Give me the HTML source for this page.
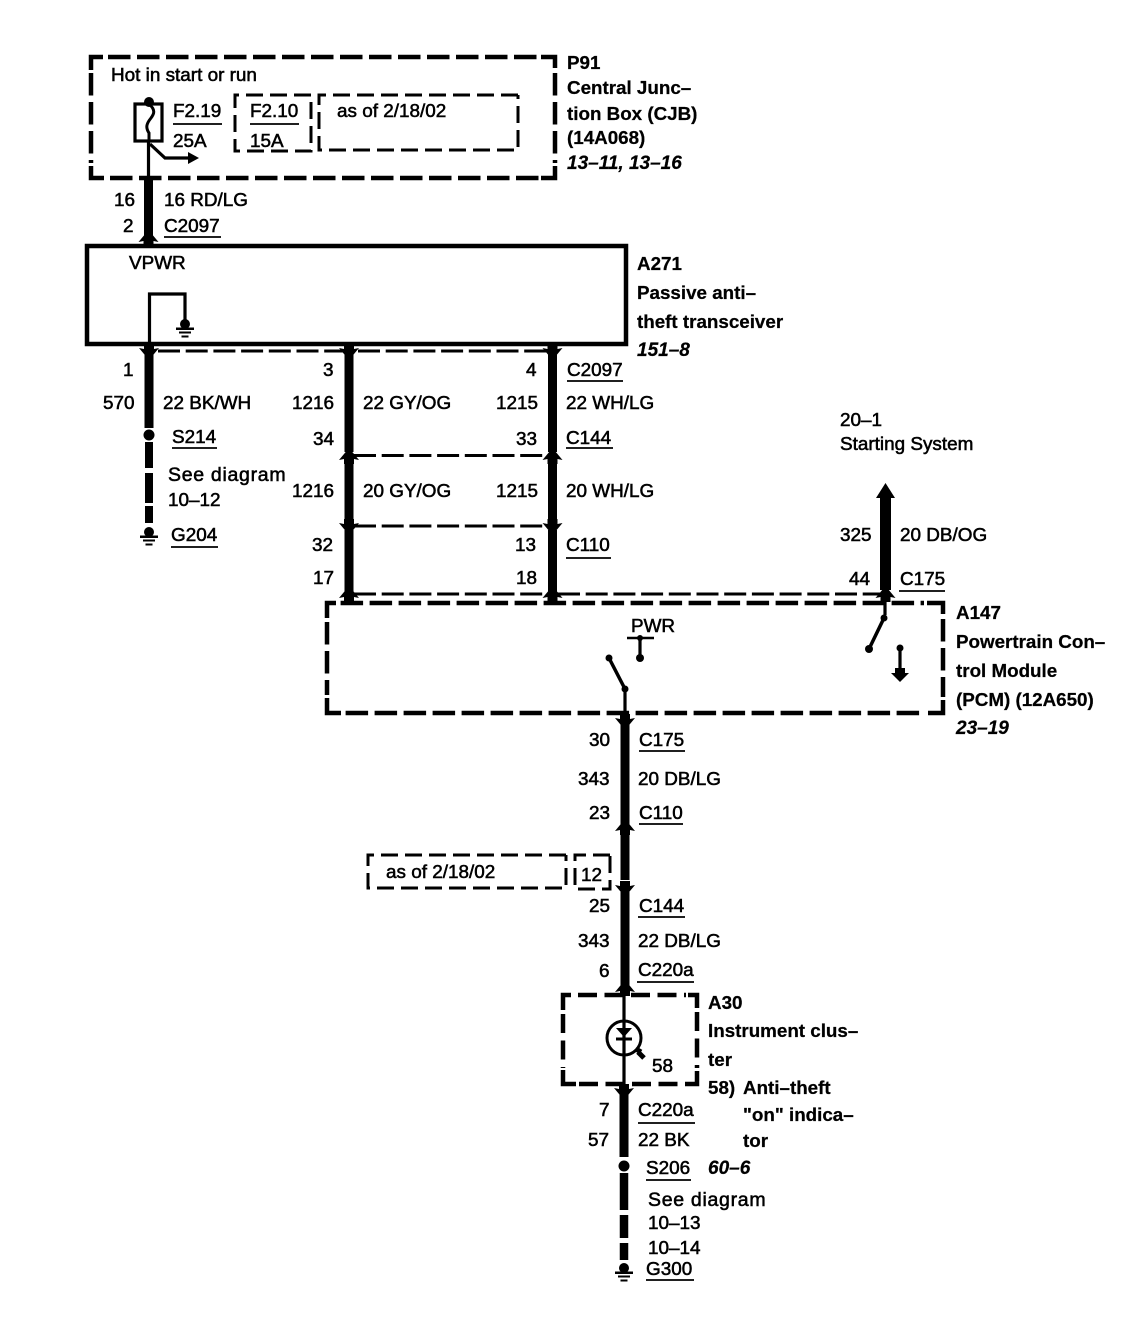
<!DOCTYPE html>
<html><head><meta charset="utf-8"><style>
html,body{margin:0;padding:0;background:#fff}
svg{display:block}
text{font-family:"Liberation Sans",sans-serif;font-size:18.9px;fill:#000;stroke:#000;stroke-width:.55px}
.b{font-weight:bold;font-size:18.8px;stroke-width:.25px}
.i{font-weight:bold;font-style:italic;font-size:19px;stroke-width:.25px}
.s{font-size:19.5px;letter-spacing:.7px}
.d{fill:none;stroke:#000;stroke-width:4.5;stroke-dasharray:22.5 6.5}
.c{fill:none;stroke:#000;stroke-width:4.5}
.a{fill:none;stroke:#000;stroke-width:4.5;stroke-dasharray:19 7.5}
.h{fill:none;stroke:#000;stroke-width:3;stroke-dasharray:22 5.7}
.n{fill:none;stroke:#000;stroke-width:3;stroke-dasharray:17 7}
.w{fill:none;stroke:#000;stroke-width:9}
.t{fill:none;stroke:#000;stroke-width:3.2}
.u{stroke:#000;stroke-width:1.8}
</style></head><body>
<svg width="1128" height="1328" viewBox="0 0 1128 1328" xmlns="http://www.w3.org/2000/svg">
<defs>
<path id="up" d="M0 -8 L5 -2 L10 4 L5 3 L5 8 L-5 8 L-5 3 L-10 4 L-5 -2 Z"/>
<path id="dn" d="M0 8 L5 2 L10 -4 L5 -3 L5 -8 L-5 -8 L-5 -3 L-10 -4 L-5 2 Z"/>
<g id="gnd"><circle cx="0" cy="-2" r="5"/><rect x="-9" y="1.500" width="18" height="2.500"/><rect x="-6" y="5.500" width="12" height="2"/><rect x="-3.500" y="9.500" width="7" height="2"/></g>
</defs>

<!-- P91 box -->
<path class="c" d="M91 70 V57 H103 M91 166 V178 H104"/>
<path class="d" d="M108 57 H540"/>
<path class="c" d="M541 57 H555 V68"/>
<path class="d" d="M110 178 H540"/>
<path class="c" d="M541 178 H555 V166"/>
<path class="d" d="M91 73 V163"/>
<path class="d" d="M555 73 V163"/>
<path class="n" d="M311 95 H235 V151 H311 V95"/>
<path class="n" d="M518 95 H319 V150 H518 V95"/>
<rect x="135" y="104" width="27" height="37" fill="none" stroke="#000" stroke-width="3.200"/>
<circle cx="149" cy="102" r="5"/>
<path d="M149 104 C156 110 154 114 151 118 C147 123 145 127 149 133 L149 141" fill="none" stroke="#000" stroke-width="3"/>
<path class="t" d="M148.500 141 V178"/>
<path class="t" d="M150 144 L165 158 H188"/>
<path d="M199 158 L188 152 V164 Z"/>
<path class="w" d="M148.500 178 V238"/>
<use href="#up" x="148.500" y="238"/>

<!-- A271 -->
<rect x="87" y="246" width="539" height="98" fill="none" stroke="#000" stroke-width="4.500"/>
<path class="t" d="M149.500 344 V294 H185 V322"/>
<use href="#gnd" x="185" y="326"/>

<!-- connector dashes -->
<path class="h" d="M158 351 H345"/>
<path class="h" d="M358 351 H548"/>
<path class="h" d="M354 455.500 H548"/>
<path class="h" d="M354 526 H548"/>
<path class="h" d="M354 594 H548"/>
<path class="h" d="M558 594 H880"/>

<!-- left wire -->
<path class="w" d="M149 346 V428"/>
<use href="#dn" x="149" y="352"/>
<circle cx="149" cy="435" r="5.500"/>
<path d="M149 442 V468 M149 473 V503 M149 506 V523" fill="none" stroke="#000" stroke-width="8"/>
<use href="#gnd" x="149" y="534"/>

<!-- middle wires -->
<path class="w" d="M349 346 V452 M349 462 V525 M349 530 V597"/>
<use href="#dn" x="349" y="352"/><use href="#up" x="349" y="456"/><use href="#dn" x="349" y="527"/><use href="#up" x="349" y="594"/>
<path class="w" d="M552.500 346 V452 M552.500 462 V525 M552.500 530 V597"/>
<use href="#dn" x="552.500" y="352"/><use href="#up" x="552.500" y="456"/><use href="#dn" x="552.500" y="527"/><use href="#up" x="552.500" y="594"/>
<path class="t" d="M349 594 V604 M552.500 594 V604"/>

<!-- right arrow -->
<path d="M885.500 483 L895 498 H891 V590 H880 V498 H876 Z"/>
<use href="#up" x="885.500" y="594"/>
<path class="t" d="M885 596 V615"/>

<!-- A147 -->
<path class="c" d="M327 618 V603 H336 M327 698 V713 H341 M927 603 H943 V614 M928 713 H943 V700"/>
<path class="d" d="M340.600 603 H924"/>
<path class="d" d="M345.600 713 H925"/>
<path class="d" d="M327 622 V695"/>
<path class="d" d="M943 619 V697"/>
<circle cx="884" cy="618" r="3.500"/>
<path d="M884 618 L869 649" fill="none" stroke="#000" stroke-width="3.500"/>
<circle cx="869" cy="649" r="4"/>
<circle cx="900" cy="648" r="3.500"/>
<path class="t" d="M900 648 V672"/>
<path d="M900 682 L891 673 H895 V668 H905 V673 H909 Z"/>
<path d="M627 638 H654" stroke="#000" stroke-width="2.500"/>
<path class="t" d="M640 638 V658"/>
<circle cx="640" cy="658" r="4"/><circle cx="640" cy="638" r="3"/>
<circle cx="609" cy="658" r="3.500"/>
<path d="M609 658 L625 689" fill="none" stroke="#000" stroke-width="3.500"/>
<circle cx="625" cy="689" r="3.500"/>
<path class="t" d="M625 689 V725"/>

<!-- center wire -->
<use href="#dn" x="625" y="722"/>
<path class="w" d="M625 722 V825 M625 835 V880 M625 892 V988"/>
<use href="#up" x="625" y="827"/><use href="#dn" x="625" y="889"/><use href="#up" x="625" y="988"/>

<!-- as of -->
<path class="n" d="M566 855 H368 V888 H566 V855"/>
<path class="n" d="M610 855 H575 V889 H610 V855"/>

<!-- A30 -->
<path class="c" d="M563 1010 V995 H571 M688 995 H697 V1008 M563 1070 V1084 H576 M685 1084 H697 V1071"/>
<path class="a" d="M578 995 H686"/>
<path class="a" d="M579 1084 H684"/>
<path class="a" d="M563 1014 V1068"/>
<path class="a" d="M697 1012 V1068"/>
<path class="t" d="M624 985 V1092"/>
<circle cx="624" cy="1038" r="17" fill="none" stroke="#000" stroke-width="3"/>
<path d="M616 1028 H632 L624 1037 Z"/>
<path d="M616 1039 H632" stroke="#000" stroke-width="3"/>
<path d="M636 1049 L641 1052 M638 1052 L644 1058" stroke="#000" stroke-width="5"/>
<use href="#dn" x="624" y="1092"/>
<path class="w" d="M624 1092 V1157"/>
<circle cx="624" cy="1166" r="5.500"/>
<path d="M624 1173 V1210 M624 1215 V1238 M624 1243 V1260" fill="none" stroke="#000" stroke-width="8.500"/>
<use href="#gnd" x="624" y="1270"/>

<!-- underlines -->
<path class="u" d="M173 124 H222 M250 124 H299 M164 237 H221 M567 381 H623 M172 448 H217 M171 547 H218 M566 448 H613 M566 558 H611 M899 591 H945 M639 751 H685 M639 824 H683 M638 917 H685 M637 982 H694 M638 1123 H695 M646 1180 H691 M646 1280 H694"/>

<!-- text top -->
<text x="111" y="81">Hot in start or run</text>
<text x="173" y="117">F2.19</text>
<text x="173" y="147">25A</text>
<text x="250" y="117">F2.10</text>
<text x="250" y="147">15A</text>
<text x="337" y="117">as of 2/18/02</text>
<text class="b" x="567" y="69">P91</text>
<text class="b" x="567" y="94">Central Junc–</text>
<text class="b" x="567" y="120">tion Box (CJB)</text>
<text class="b" x="567" y="144">(14A068)</text>
<text class="i" x="567" y="169">13–11, 13–16</text>
<text x="114" y="206">16</text>
<text x="123" y="232">2</text>
<text x="164" y="206">16 RD/LG</text>
<text x="164" y="232">C2097</text>
<text x="129" y="269">VPWR</text>
<text class="b" x="637" y="270">A271</text>
<text class="b" x="637" y="299">Passive anti–</text>
<text class="b" x="637" y="328">theft transceiver</text>
<text class="i" x="637" y="356">151–8</text>

<!-- row texts -->
<text x="123" y="376">1</text>
<text x="323" y="376">3</text>
<text x="526" y="376">4</text>
<text x="567" y="376">C2097</text>
<text x="103" y="409">570</text>
<text x="163" y="409">22 BK/WH</text>
<text x="292" y="409">1216</text>
<text x="363" y="409">22 GY/OG</text>
<text x="496" y="409">1215</text>
<text x="566" y="409">22 WH/LG</text>
<text x="172" y="443">S214</text>
<text x="313" y="445">34</text>
<text x="516" y="445">33</text>
<text x="566" y="444">C144</text>
<text class="s" x="168" y="481">See diagram</text>
<text x="168" y="506">10–12</text>
<text x="292" y="497">1216</text>
<text x="363" y="497">20 GY/OG</text>
<text x="496" y="497">1215</text>
<text x="566" y="497">20 WH/LG</text>
<text x="171" y="541">G204</text>
<text x="312" y="551">32</text>
<text x="515" y="551">13</text>
<text x="566" y="551">C110</text>
<text x="313" y="584">17</text>
<text x="516" y="584">18</text>

<!-- right -->
<text x="840" y="426">20–1</text>
<text x="840" y="450">Starting System</text>
<text x="840" y="541">325</text>
<text x="900" y="541">20 DB/OG</text>
<text x="849" y="585">44</text>
<text x="900" y="585">C175</text>
<text class="b" x="956" y="619">A147</text>
<text class="b" x="956" y="648">Powertrain Con–</text>
<text class="b" x="956" y="677">trol Module</text>
<text class="b" x="956" y="706">(PCM) (12A650)</text>
<text class="i" x="956" y="734">23–19</text>
<text x="631" y="632">PWR</text>

<!-- center -->
<text x="589" y="746">30</text>
<text x="639" y="746">C175</text>
<text x="578" y="785">343</text>
<text x="638" y="785">20 DB/LG</text>
<text x="589" y="819">23</text>
<text x="639" y="819">C110</text>
<text x="386" y="878">as of 2/18/02</text>
<text x="581" y="881">12</text>
<text x="589" y="912">25</text>
<text x="639" y="912">C144</text>
<text x="578" y="947">343</text>
<text x="638" y="947">22 DB/LG</text>
<text x="599" y="977">6</text>
<text x="638" y="976">C220a</text>

<text class="b" x="708" y="1009">A30</text>
<text class="b" x="708" y="1037">Instrument clus–</text>
<text class="b" x="708" y="1066">ter</text>
<text class="b" x="708" y="1094">58)</text>
<text class="b" x="743" y="1094">Anti–theft</text>
<text class="b" x="743" y="1121">"on" indica–</text>
<text class="b" x="743" y="1147">tor</text>
<text x="652" y="1072">58</text>
<text x="599" y="1116">7</text>
<text x="638" y="1116">C220a</text>
<text x="588" y="1146">57</text>
<text x="638" y="1146">22 BK</text>
<text x="646" y="1174">S206</text>
<text class="i" x="708" y="1174">60–6</text>
<text class="s" x="648" y="1206">See diagram</text>
<text x="648" y="1229">10–13</text>
<text x="648" y="1254">10–14</text>
<text x="646" y="1275">G300</text>
</svg>
</body></html>
